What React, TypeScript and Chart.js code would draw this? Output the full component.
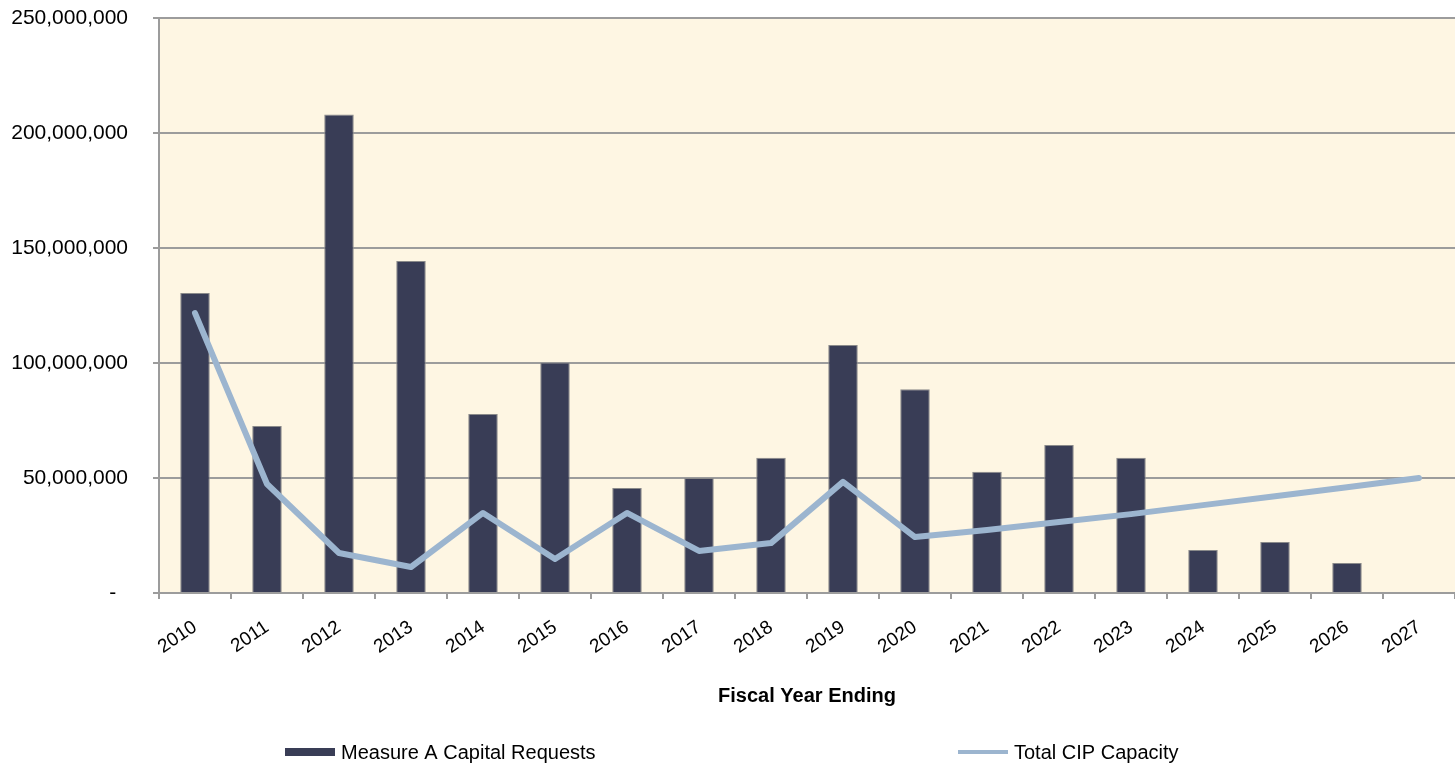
import React, { useEffect, useRef } from "react";
import { Chart, registerables } from "chart.js";

Chart.register(...registerables);

// Fiscal years on the category axis
const years = [
  "2010", "2011", "2012", "2013", "2014", "2015", "2016", "2017", "2018",
  "2019", "2020", "2021", "2022", "2023", "2024", "2025", "2026", "2027",
];

// Measure A capital requests per fiscal year (dollars)
const capitalRequests = [
  130400000, 72600000, 208000000, 144300000, 77800000, 100200000, 45700000,
  50000000, 58800000, 107800000, 88600000, 52700000, 64400000, 58800000,
  18700000, 22200000, 13000000, 0,
];

// Total CIP capacity per fiscal year (dollars)
const cipCapacity = [
  121700000, 47400000, 17400000, 11300000, 34800000, 14800000, 34800000,
  18300000, 21700000, 48300000, 24300000, 27400000, 30900000, 34300000,
  38200000, 42100000, 46000000, 50000000,
];

// Value axis
const yMin = 0;
const yMax = 250000000;
const yStep = 50000000;

const seriesNames = ["Measure A Capital Requests", "Total CIP Capacity"];
const axisTitle = "Fiscal Year Ending";

const FONT = "'Liberation Sans', Arial, Helvetica, sans-serif";
const BAR_COLOR = "#393d56";
const LINE_COLOR = "#9cb5cf";
const PLOT_BG = "#fef6e3";
const GRID_COLOR = "#9c9c9c";

// Fills the plotting area with a cream background
const plotBackground = {
  id: "plotBackground",
  beforeDraw(chart: any) {
    const { ctx, chartArea } = chart;
    if (!chartArea) return;
    ctx.save();
    ctx.fillStyle = PLOT_BG;
    ctx.fillRect(
      chartArea.left,
      chartArea.top,
      chartArea.right - chartArea.left,
      chartArea.bottom - chartArea.top
    );
    ctx.restore();
  },
};

// Bottom legend with widely spaced entries
const spacedLegend = {
  id: "spacedLegend",
  afterDraw(chart: any, _args: any, opts: any) {
    const { ctx } = chart;
    const y = chart.height - opts.bottomOffset;
    const items: number[] = opts.positions;
    ctx.save();
    ctx.font = `${opts.fontSize}px ${FONT}`;
    ctx.textBaseline = "middle";
    ctx.textAlign = "left";
    chart.data.datasets.forEach((ds: any, i: number) => {
      const x = items[i];
      const sw = opts.swatchWidth;
      if (ds.type === "line") {
        ctx.strokeStyle = ds.borderColor;
        ctx.lineWidth = 4;
        ctx.lineCap = "butt";
        ctx.beginPath();
        ctx.moveTo(x, y);
        ctx.lineTo(x + sw, y);
        ctx.stroke();
      } else {
        ctx.fillStyle = ds.backgroundColor;
        ctx.fillRect(x, y - 4, sw, 8);
      }
      ctx.fillStyle = "#000";
      ctx.fillText(ds.label, x + sw + 6, y + 1);
    });
    ctx.restore();
  },
};

export default function App() {
  const canvasRef = useRef<HTMLCanvasElement | null>(null);

  useEffect(() => {
    if (!canvasRef.current) return;
    const chart = new Chart(canvasRef.current, {
      type: "bar",
      data: {
        labels: years,
        datasets: [
          {
            type: "bar",
            label: seriesNames[0],
            data: capitalRequests,
            backgroundColor: BAR_COLOR,
            borderColor: "#8a8a8a",
            borderWidth: 1,
            barPercentage: 0.41,
            categoryPercentage: 1,
            order: 2,
          },
          {
            type: "line",
            label: seriesNames[1],
            data: cipCapacity,
            borderColor: LINE_COLOR,
            backgroundColor: LINE_COLOR,
            borderWidth: 6,
            pointRadius: 0,
            pointHoverRadius: 0,
            tension: 0,
            borderCapStyle: "round",
            borderJoinStyle: "round",
            fill: false,
            order: 1,
          } as any,
        ],
      },
      options: {
        responsive: false,
        animation: false,
        layout: { padding: { top: 18, right: 0, bottom: 55, left: 0 } },
        plugins: {
          legend: { display: false },
          tooltip: { enabled: false },
          spacedLegend: {
            positions: [285, 958],
            swatchWidth: 50,
            bottomOffset: 11,
            fontSize: 20,
          },
        } as any,
        scales: {
          x: {
            type: "category",
            offset: true,
            grid: {
              display: true,
              offset: true,
              drawOnChartArea: false,
              drawTicks: true,
              tickLength: 6,
              color: GRID_COLOR,
              lineWidth: 2,
            },
            border: { display: true, color: GRID_COLOR, width: 2 },
            ticks: {
              color: "#000",
              font: { family: FONT, size: 19 },
              minRotation: 34,
              maxRotation: 34,
              autoSkip: false,
              padding: 17,
            },
            title: {
              display: true,
              text: axisTitle,
              color: "#000",
              font: { family: FONT, size: 20, weight: "bold" },
              padding: { top: 0, bottom: 0 },
            },
            afterFit(scale: any) {
              scale.height = 115;
              scale.paddingLeft = 0;
              scale.paddingRight = 0;
            },
          },
          y: {
            min: yMin,
            max: yMax,
            grid: {
              color: GRID_COLOR,
              lineWidth: 2,
              drawTicks: true,
              tickLength: 6,
            },
            border: { display: true, color: GRID_COLOR, width: 2 },
            ticks: {
              stepSize: yStep,
              color: "#000",
              font: { family: FONT, size: 21 },
              padding: 25,
              callback: (value: any) =>
                Number(value) === 0 ? "-  " : Number(value).toLocaleString("en-US"),
            },
            afterFit(scale: any) {
              scale.width = 159;
              scale.paddingTop = 0;
              scale.paddingBottom = 0;
            },
          },
        },
      },
      plugins: [plotBackground, spacedLegend],
    });
    return () => chart.destroy();
  }, []);

  return (
    <div style={{ position: "absolute", left: 0, top: 0, width: 1455, height: 763, background: "#fff" }}>
      <canvas ref={canvasRef} width={1455} height={763} />
    </div>
  );
}
